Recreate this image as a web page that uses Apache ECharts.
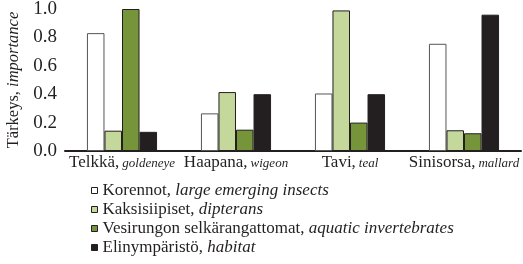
<!DOCTYPE html>
<html>
<head>
<meta charset="utf-8">
<script src="https://cdn.jsdelivr.net/npm/echarts@6/dist/echarts.min.js"></script>
<style>
  html, body { margin: 0; padding: 0; background: #fff; }
  #chart { width: 523px; height: 264px; }
</style>
</head>
<body>
<div id="chart"></div>
<script>
// lajit (fi, en)
var speciesFi = ['Telkkä,', 'Haapana,', 'Tavi,', 'Sinisorsa,'];
var speciesEn = ['goldeneye', 'wigeon', 'teal', 'mallard'];

var seriesFi = ['Korennot,', 'Kaksisiipiset,', 'Vesirungon selkärangattomat,', 'Elinympäristö,'];
var seriesEn = ['large emerging insects', 'dipterans', 'aquatic invertebrates', 'habitat'];
var seriesColors = ['#ffffff', '#c5d89c', '#76953a', '#231f20'];

var korennot = [0.83, 0.265, 0.405, 0.755];
var kaksisiipiset = [0.143, 0.415, 0.99, 0.146];
var vesirungon = [1.0, 0.15, 0.20, 0.125];
var elinymparisto = [0.135, 0.40, 0.40, 0.96];

var yTicks = [0, 0.2, 0.4, 0.6, 0.8, 1.0];

var values = [korennot, kaksisiipiset, vesirungon, elinymparisto];
var serif = '"Liberation Serif", "DejaVu Serif", serif';

var chart = echarts.init(document.getElementById('chart'));

chart.setOption({
    backgroundColor: '#fff',
    animation: false,
    grid: { left: 65, right: 2, top: 9, bottom: 113, outerBoundsMode: 'none', containLabel: false },
    legend: {
        orient: 'vertical',
        left: 86,
        top: 177,
        height: 90,
        itemWidth: 6,
        itemHeight: 6,
        itemGap: 2,
        icon: 'rect',
        textStyle: {
            fontFamily: serif,
            fontSize: 17,
            color: '#231f20',
            rich: {
                fi: { fontFamily: serif, fontSize: 17, lineHeight: 17, color: '#231f20' },
                en: { fontFamily: serif, fontSize: 17, lineHeight: 17, fontStyle: 'italic', color: '#231f20' }
            }
        },
        formatter: function (name) {
            var i = seriesFi.indexOf(name);
            return '{fi|' + name + ' }{en|' + seriesEn[i] + '}';
        },
        data: seriesFi.map(function (n, i) {
            return { name: n, itemStyle: { borderColor: '#231f20', borderWidth: 1 } };
        })
    },
    xAxis: {
        type: 'category',
        data: speciesFi,
        axisLine: { lineStyle: { color: '#231f20', width: 2 } },
        axisTick: { show: false },
        axisLabel: {
            interval: 0,
            margin: 3,
            formatter: function (v, idx) {
                return '{fi|' + v + '}{en|' + speciesEn[idx] + '}';
            },
            rich: {
                fi: { fontFamily: serif, fontSize: 17, color: '#231f20' },
                en: { fontFamily: serif, fontSize: 13, fontStyle: 'italic', color: '#231f20', padding: [3, 0, 0, 3] }
            }
        }
    },
    yAxis: {
        type: 'value',
        min: 0,
        max: 1,
        interval: 0.2,
        axisLine: { show: false },
        axisTick: { show: false },
        splitLine: { show: false },
        axisLabel: {
            margin: 8,
            fontFamily: serif,
            fontSize: 19,
            color: '#231f20',
            formatter: function (v) {
                var t = yTicks.find(function (x) { return Math.abs(x - v) < 1e-6; });
                return (t !== undefined ? t : v).toFixed(1);
            }
        },
        name: '{fi|Tärkeys, }{en|importance}',
        nameLocation: 'middle',
        nameGap: 42,
        nameRotate: 90,
        nameTextStyle: {
            rich: {
                fi: { fontFamily: serif, fontSize: 16.5, color: '#231f20' },
                en: { fontFamily: serif, fontSize: 16.5, fontStyle: 'italic', color: '#231f20' }
            }
        }
    },
    series: seriesFi.map(function (n, i) {
        return {
            name: n,
            type: 'bar',
            data: values[i],
            barGap: '0%',
            barCategoryGap: '38.5%',
            itemStyle: {
                color: seriesColors[i],
                borderColor: i === 0 ? '#555' : '#231f20',
                borderWidth: 1
            }
        };
    })
});
</script>
</body>
</html>
